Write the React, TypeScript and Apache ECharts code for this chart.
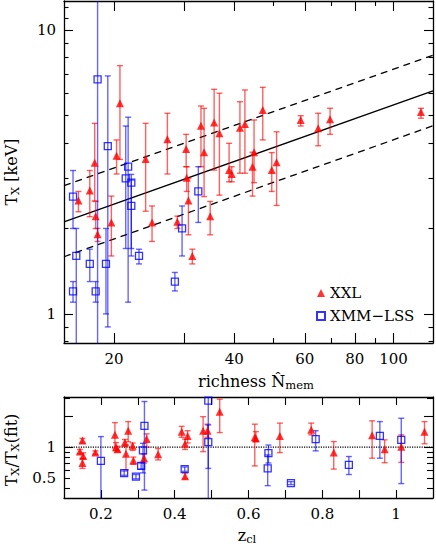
import React, { useEffect, useRef } from 'react';
import * as echarts from 'echarts';

const FONT = '"DejaVu Serif", serif';

// ---- Top panel data: [richness, Tx (keV), Tx low, Tx high]
const xxlRichnessTx: number[][] = [
  [16.3, 2.51, 2.29, 2.7],
  [17.4, 2.72, 2.2, 3.2],
  [17.9, 3.41, 2.5, 4.69],
  [18.0, 2.21, 2.0, 2.49],
  [18.2, 1.91, 1.8, 2.0],
  [19.7, 2.1, 1.6, 2.6],
  [20.3, 3.61, 3.11, 4.1],
  [20.7, 5.52, 3.5, 7.49],
  [24.0, 3.51, 2.3, 4.69],
  [24.9, 2.1, 1.8, 2.4],
  [27.2, 4.12, 3.11, 5.09],
  [28.8, 2.11, 2.0, 2.21],
  [30.3, 3.81, 3.3, 4.29],
  [30.4, 3.02, 2.7, 3.3],
  [30.7, 2.51, 1.9, 3.0],
  [31.4, 1.6, 1.5, 1.69],
  [33.0, 4.6, 3.3, 5.4],
  [33.6, 3.71, 2.59, 5.3],
  [34.8, 2.21, 1.9, 2.49],
  [35.6, 4.72, 3.21, 6.18],
  [36.7, 4.33, 2.62, 5.99],
  [38.8, 3.21, 2.92, 3.99],
  [39.4, 3.11, 2.92, 3.3],
  [41.3, 4.53, 3.13, 5.59],
  [42.5, 4.67, 3.13, 6.15],
  [44.8, 3.71, 2.9, 4.82],
  [44.4, 3.3, 2.6, 3.71],
  [47.1, 5.23, 4.1, 6.28],
  [49.6, 3.21, 2.7, 3.7],
  [51.0, 3.42, 2.41, 4.38],
  [58.6, 4.82, 4.59, 4.99],
  [64.8, 4.51, 3.91, 5.09],
  [69.4, 4.85, 4.29, 5.3],
  [117.1, 5.14, 4.89, 5.3],
];

const xmmRichnessTx: number[][] = [
  [18.2, 6.7, 0.5, 20],
  [19.3, 3.9, 0.9, 6.89],
  [19.1, 1.5, 1.0, 2.0],
  [21.7, 3.3, 1.1, 4.93],
  [21.4, 3.0, 1.7, 4.59],
  [22.1, 2.9, 1.7, 3.1],
  [22.1, 2.4, 1.6, 2.96],
  [15.8, 2.59, 2.0, 3.2],
  [16.1, 1.6, 0.5, 2.0],
  [15.8, 1.2, 1.1, 1.3],
  [17.4, 1.5, 1.3, 1.69],
  [18.0, 1.2, 1.1, 1.3],
  [23.1, 1.6, 1.5, 1.69],
  [28.4, 1.3, 1.205, 1.4],
  [29.6, 2.0, 1.6, 2.4],
  [32.5, 2.7, 2.1, 3.3],
];

// ---- Bottom panel data: [z_cl, Tx/Tx(fit), low, high]
const xxlRatio: number[][] = [
  [0.15, 1.16, 1.1, 1.22],
  [0.143, 0.905, 0.86, 0.95],
  [0.152, 0.82, 0.77, 0.88],
  [0.15, 0.7, 0.62, 0.78],
  [0.185, 0.885, 0.85, 0.92],
  [0.238, 1.32, 0.98, 1.74],
  [0.241, 1.0, 0.93, 1.11],
  [0.245, 0.955, 0.9, 1.02],
  [0.265, 1.11, 1.02, 1.19],
  [0.268, 0.86, 0.6, 1.05],
  [0.274, 1.445, 1.13, 1.78],
  [0.286, 1.03, 0.93, 1.1],
  [0.288, 0.74, 0.68, 0.8],
  [0.317, 0.78, 0.7, 0.86],
  [0.324, 1.2, 1.0, 1.35],
  [0.355, 0.855, 0.75, 0.97],
  [0.419, 1.42, 1.25, 1.6],
  [0.428, 1.08, 0.95, 1.2],
  [0.435, 1.29, 1.1, 1.45],
  [0.428, 0.52, 0.49, 0.56],
  [0.477, 1.45, 0.905, 1.99],
  [0.489, 1.45, 1.25, 1.68],
  [0.522, 2.22, 1.39, 2.95],
  [0.617, 1.25, 0.655, 1.68],
  [0.62, 1.22, 1.13, 1.42],
  [0.685, 1.29, 0.885, 1.72],
  [0.77, 1.48, 1.32, 1.72],
  [0.831, 0.885, 0.61, 1.135],
  [0.935, 1.31, 0.78, 1.81],
  [0.969, 0.955, 0.705, 1.18],
  [1.014, 1.01, 0.71, 1.32],
  [1.077, 1.42, 1.08, 1.78],
];

const xmmRatio: number[][] = [
  [0.2, 0.734, 0.2, 1.27],
  [0.263, 0.556, 0.53, 0.585],
  [0.295, 0.515, 0.49, 0.54],
  [0.309, 0.655, 0.61, 0.7],
  [0.318, 1.62, 0.38, 2.8],
  [0.314, 0.93, 0.56, 1.09],
  [0.491, 2.86, 0.2, 5],
  [0.491, 1.12, 0.62, 1.65],
  [0.427, 0.61, 0.58, 0.64],
  [0.654, 0.873, 0.7, 1.05],
  [0.652, 0.62, 0.42, 0.84],
  [0.715, 0.444, 0.43, 0.46],
  [0.782, 1.2, 0.92, 1.45],
  [0.872, 0.67, 0.54, 0.81],
  [0.956, 1.29, 0.78, 1.78],
  [1.014, 1.18, 0.44, 1.92],
];

// ---- Fit relation and its scatter
const fitLine: number[][] = [[15, 2.11], [125.5, 6.1]];
const fitUpper: number[][] = [[15, 2.83], [125.5, 8.15]];
const fitLower: number[][] = [[15, 1.59], [125.5, 4.6]];
const unityLine: number[][] = [[0.1, 1], [1.1, 1]];

// ---- Ticks / labels
const topXLabels = [20, 40, 60, 80, 100];
const topXMajor = [20, 30, 40, 60, 80, 100];
const topXMinor = [50, 70, 90];
const topYLabels = [1, 10];
const topYMajor = [1, 10];
const topYMinor = [0.8, 0.9, 2, 3, 4, 5, 6, 7, 8, 9, 11, 12];
const botXLabels = [0.2, 0.4, 0.6, 0.8, 1];
const botXTicks = [0.2, 0.3, 0.4, 0.5, 0.6, 0.7, 0.8, 0.9, 1.0];
const botYLabels = [0.5, 1];
const botYMajor = [1, 2];
const botYMinor = [0.4, 0.5, 0.6, 0.7, 0.8, 0.9, 3];

const RED = '#ff0000';
const BLUE = '#0000ff';
const RED_BAR = 'rgba(255,0,0,0.62)';
const BLUE_BAR = 'rgba(0,0,255,0.6)';

function axis(
  gridIndex: number,
  type: string,
  min: number,
  max: number,
  position: string,
  ticks: number[],
  tickLen: number,
  showLine: boolean,
  labels?: number[]
) {
  return {
    type,
    gridIndex,
    min,
    max,
    position,
    logBase: 10,
    axisLine: { show: showLine, onZero: false, lineStyle: { color: '#000', width: 1.3 } },
    axisTick: {
      show: true,
      inside: true,
      length: tickLen,
      customValues: ticks,
      lineStyle: { color: '#000', width: 1.1 },
    },
    axisLabel: labels
      ? {
          show: true,
          customValues: labels,
          color: '#000',
          fontFamily: FONT,
          fontSize: 15,
          margin: 8,
        }
      : { show: false },
    splitLine: { show: false },
    minorTick: { show: false },
    splitArea: { show: false },
  };
}

function errorBars(name: string, data: number[][], color: string, xi: number, yi: number) {
  return {
    type: 'custom',
    name,
    xAxisIndex: xi,
    yAxisIndex: yi,
    clip: true,
    silent: true,
    z: 2,
    data: data.map((d) => [d[0], d[2], d[3]]),
    encode: { x: 0, y: [1, 2] },
    renderItem: (_params: any, api: any) => {
      const x = api.value(0);
      const lo = api.coord([x, api.value(1)]);
      const hi = api.coord([x, api.value(2)]);
      const w = 3;
      const style = { stroke: color, lineWidth: 1.4, fill: 'none' };
      return {
        type: 'group',
        children: [
          { type: 'line', shape: { x1: lo[0], y1: lo[1], x2: hi[0], y2: hi[1] }, style },
          { type: 'line', shape: { x1: lo[0] - w, y1: lo[1], x2: lo[0] + w, y2: lo[1] }, style },
          { type: 'line', shape: { x1: hi[0] - w, y1: hi[1], x2: hi[0] + w, y2: hi[1] }, style },
        ],
      };
    },
  };
}

function lineSeries(data: number[][], xi: number, yi: number, type: any) {
  return {
    type: 'line',
    xAxisIndex: xi,
    yAxisIndex: yi,
    data,
    symbol: 'none',
    silent: true,
    clip: true,
    z: 1,
    lineStyle: { color: '#000', width: type === 'dotted' ? 1.2 : 1.3, type },
  };
}

function xxlScatter(data: number[][], xi: number, yi: number) {
  return {
    type: 'scatter',
    name: 'XXL',
    xAxisIndex: xi,
    yAxisIndex: yi,
    clip: true,
    z: 4,
    symbol: 'triangle',
    symbolSize: 8,
    itemStyle: { color: RED },
    data: data.map((d) => [d[0], d[1]]),
  };
}

function xmmScatter(data: number[][], xi: number, yi: number) {
  return {
    type: 'scatter',
    name: 'XMM\u2212LSS',
    xAxisIndex: xi,
    yAxisIndex: yi,
    clip: true,
    z: 4,
    symbol: 'rect',
    symbolSize: 7,
    itemStyle: { color: 'rgba(255,255,255,0)', borderColor: BLUE, borderWidth: 1.3 },
    data: data.map((d) => [d[0], d[1]]),
  };
}

const title = (x: number, y: number, text: string, rotate: boolean, align = 'center') => ({
  type: 'text',
  x,
  y,
  rotation: rotate ? Math.PI / 2 : 0,
  silent: true,
  style: {
    text,
    align,
    verticalAlign: 'middle',
    fill: '#000',
    rich: {
      m: { fontFamily: FONT, fontSize: 16, lineHeight: 20, fill: '#000' },
      s: { fontFamily: FONT, fontSize: 11.5, lineHeight: 11, verticalAlign: 'bottom', fill: '#000' },
    },
  },
});

export default function App() {
  const ref = useRef<HTMLDivElement>(null);
  useEffect(() => {
    document.body.style.margin = '0';
    if (!ref.current) return;
    const chart = echarts.init(ref.current, undefined, { renderer: 'svg' });
    const TX = [15, 125.5];
    const TY = [0.79, 12.65];
    const BX = [0.1, 1.1];
    const BY = [0.318, 3.1];
    const option: any = {
      animation: false,
      backgroundColor: '#fff',
      grid: [
        { left: 64, top: 1, width: 369, height: 342, containLabel: false },
        { left: 64, top: 397, width: 369, height: 101, containLabel: false },
      ],
      xAxis: [
        axis(0, 'log', TX[0], TX[1], 'bottom', topXMajor, 10, true, topXLabels),
        axis(0, 'log', TX[0], TX[1], 'bottom', topXMinor, 5, false),
        axis(0, 'log', TX[0], TX[1], 'top', topXMajor, 10, true),
        axis(0, 'log', TX[0], TX[1], 'top', topXMinor, 5, false),
        axis(1, 'value', BX[0], BX[1], 'bottom', botXTicks, 8, true, botXLabels),
        axis(1, 'value', BX[0], BX[1], 'top', botXTicks, 8, true),
      ],
      yAxis: [
        axis(0, 'log', TY[0], TY[1], 'left', topYMajor, 9, true, topYLabels),
        axis(0, 'log', TY[0], TY[1], 'left', topYMinor, 4.5, false),
        axis(0, 'log', TY[0], TY[1], 'right', topYMajor, 9, true),
        axis(0, 'log', TY[0], TY[1], 'right', topYMinor, 4.5, false),
        axis(1, 'log', BY[0], BY[1], 'left', botYMajor, 9, true, botYLabels),
        axis(1, 'log', BY[0], BY[1], 'left', botYMinor, 6, false),
        axis(1, 'log', BY[0], BY[1], 'right', botYMajor, 9, true),
        axis(1, 'log', BY[0], BY[1], 'right', botYMinor, 6, false),
      ],
      legend: {
        data: ['XXL', 'XMM\u2212LSS'],
        orient: 'vertical',
        left: 311,
        top: 280,
        itemWidth: 8,
        itemHeight: 8,
        itemGap: 7,
        selectedMode: false,
        textStyle: {
          fontFamily: FONT,
          fontSize: 15,
          color: '#000',
          lineHeight: 16,
        },
      },
      graphic: [
        title(11, 172, '{m|T}{s|X}{m| [keV]}', true),
        title(11, 450, '{m|T}{s|X}{m|/T}{s|X}{m|(fit)}', true),
        title(198, 381, '{m|richness N\u0302}{s|mem}', false, 'left'),
        title(247, 535, '{m|z}{s|cl}', false),
      ],
      series: [
        lineSeries(fitLine, 0, 0, 'solid'),
        lineSeries(fitUpper, 0, 0, [7, 5]),
        lineSeries(fitLower, 0, 0, [7, 5]),
        lineSeries(unityLine, 4, 4, 'dotted'),
        errorBars('xxlErr', xxlRichnessTx, RED_BAR, 0, 0),
        errorBars('xmmErr', xmmRichnessTx, BLUE_BAR, 0, 0),
        errorBars('xxlErrB', xxlRatio, RED_BAR, 4, 4),
        errorBars('xmmErrB', xmmRatio, BLUE_BAR, 4, 4),
        xxlScatter(xxlRichnessTx, 0, 0),
        xmmScatter(xmmRichnessTx, 0, 0),
        xxlScatter(xxlRatio, 4, 4),
        xmmScatter(xmmRatio, 4, 4),
      ],
    };
    chart.setOption(option);
    return () => chart.dispose();
  }, []);
  return (
    <div
      ref={ref}
      style={{ position: 'fixed', left: 0, top: 0, width: 436, height: 548, background: '#fff' }}
    />
  );
}
